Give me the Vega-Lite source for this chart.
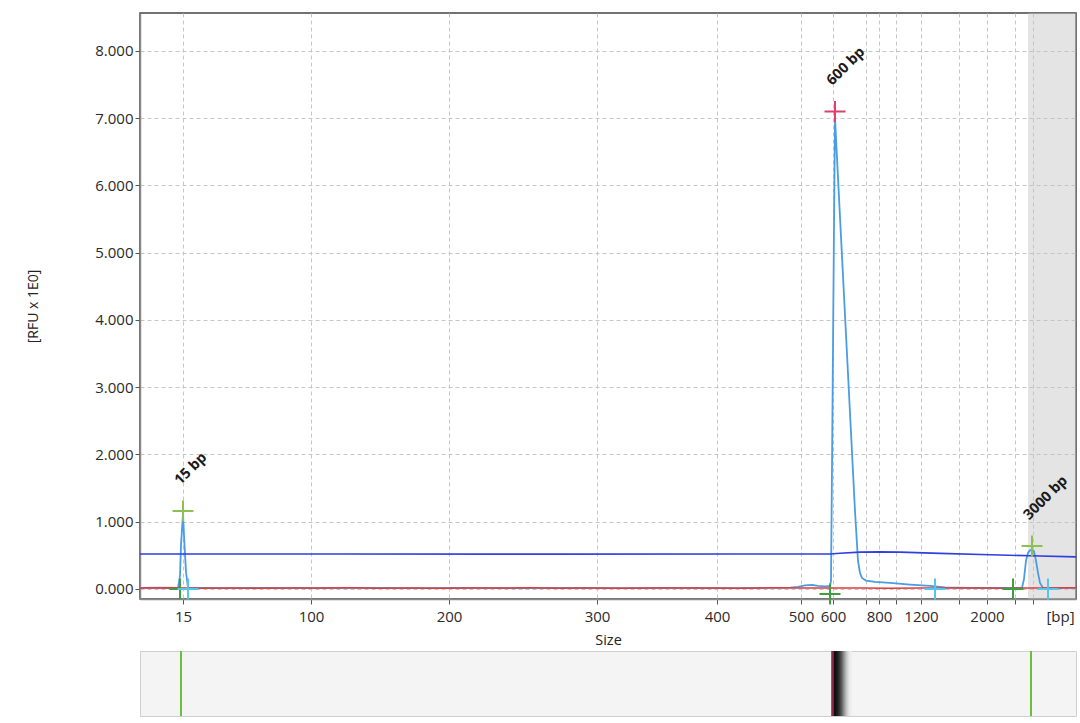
{
  "$schema": "https://vega.github.io/schema/vega-lite/v6.json",
  "padding": {"left": 25, "top": 12, "right": 4, "bottom": 7},
  "background": "white",
  "spacing": 1,
  "config": {
    "font": "Open Sans",
    "view": {"stroke": null}
  },
  "datasets": {
    "shade": [{"t": 888, "t2": 936}],
    "signal": [
      {"t": 0, "rfu": 15}, {"t": 20, "rfu": 18}, {"t": 38, "rfu": 15}, {"t": 40, "rfu": 200}, {"t": 41, "rfu": 650},
      {"t": 43, "rfu": 1120}, {"t": 44, "rfu": 800}, {"t": 46, "rfu": 250}, {"t": 48, "rfu": 20},
      {"t": 80, "rfu": 14}, {"t": 130, "rfu": 16}, {"t": 180, "rfu": 12}, {"t": 230, "rfu": 15}, {"t": 280, "rfu": 13},
      {"t": 330, "rfu": 16}, {"t": 380, "rfu": 12}, {"t": 430, "rfu": 15}, {"t": 480, "rfu": 13}, {"t": 530, "rfu": 16},
      {"t": 580, "rfu": 12}, {"t": 630, "rfu": 16}, {"t": 650, "rfu": 20},
      {"t": 658, "rfu": 30}, {"t": 665, "rfu": 55}, {"t": 672, "rfu": 62}, {"t": 678, "rfu": 45}, {"t": 685, "rfu": 38},
      {"t": 690, "rfu": 45}, {"t": 691, "rfu": 120}, {"t": 692, "rfu": 1800}, {"t": 693, "rfu": 3600}, {"t": 694, "rfu": 5400},
      {"t": 695, "rfu": 7000}, {"t": 700, "rfu": 5530}, {"t": 705, "rfu": 4075}, {"t": 710, "rfu": 2617}, {"t": 715, "rfu": 1160},
      {"t": 718, "rfu": 416}, {"t": 720, "rfu": 238}, {"t": 722, "rfu": 164}, {"t": 726, "rfu": 125}, {"t": 735, "rfu": 105},
      {"t": 750, "rfu": 90}, {"t": 770, "rfu": 65}, {"t": 790, "rfu": 45}, {"t": 805, "rfu": 25}, {"t": 830, "rfu": 15},
      {"t": 860, "rfu": 16}, {"t": 882, "rfu": 15}, {"t": 884, "rfu": 150}, {"t": 886, "rfu": 420}, {"t": 888, "rfu": 540},
      {"t": 890, "rfu": 575}, {"t": 892, "rfu": 585}, {"t": 894, "rfu": 560}, {"t": 896, "rfu": 420}, {"t": 898, "rfu": 240},
      {"t": 900, "rfu": 90}, {"t": 903, "rfu": 15}, {"t": 936, "rfu": 15}
    ],
    "baseline": [
      {"t": 0, "rfu": 14}, {"t": 30, "rfu": 18}, {"t": 60, "rfu": 12}, {"t": 90, "rfu": 16}, {"t": 120, "rfu": 11},
      {"t": 150, "rfu": 15}, {"t": 180, "rfu": 13}, {"t": 210, "rfu": 17}, {"t": 240, "rfu": 12}, {"t": 270, "rfu": 15},
      {"t": 300, "rfu": 11}, {"t": 330, "rfu": 16}, {"t": 360, "rfu": 13}, {"t": 390, "rfu": 17}, {"t": 420, "rfu": 12},
      {"t": 450, "rfu": 14}, {"t": 480, "rfu": 11}, {"t": 510, "rfu": 16}, {"t": 540, "rfu": 13}, {"t": 570, "rfu": 15},
      {"t": 600, "rfu": 12}, {"t": 630, "rfu": 17}, {"t": 660, "rfu": 14}, {"t": 690, "rfu": 16}, {"t": 720, "rfu": 15},
      {"t": 750, "rfu": 12}, {"t": 780, "rfu": 16}, {"t": 810, "rfu": 13}, {"t": 840, "rfu": 15}, {"t": 870, "rfu": 12},
      {"t": 900, "rfu": 16}, {"t": 936, "rfu": 20}
    ],
    "threshold": [
      {"t": 0, "rfu": 520}, {"t": 200, "rfu": 520}, {"t": 400, "rfu": 518}, {"t": 600, "rfu": 520}, {"t": 690, "rfu": 520},
      {"t": 700, "rfu": 532}, {"t": 720, "rfu": 548}, {"t": 740, "rfu": 552}, {"t": 760, "rfu": 548}, {"t": 800, "rfu": 530},
      {"t": 850, "rfu": 508}, {"t": 890, "rfu": 495}, {"t": 936, "rfu": 478}
    ],
    "markers": [
      {"t": 43, "rfu": 1160, "kind": "standard"},
      {"t": 40, "rfu": 0, "kind": "start"},
      {"t": 48, "rfu": 0, "kind": "end"},
      {"t": 695, "rfu": 7100, "kind": "peak"},
      {"t": 690, "rfu": -75, "kind": "start"},
      {"t": 795, "rfu": 0, "kind": "end"},
      {"t": 892, "rfu": 640, "kind": "standard"},
      {"t": 873, "rfu": 0, "kind": "start"},
      {"t": 908, "rfu": 0, "kind": "end"}
    ],
    "labels": [
      {"t": 43, "rfu": 1160, "label": "15 bp"},
      {"t": 695, "rfu": 7100, "label": "600 bp"},
      {"t": 892, "rfu": 640, "label": "3000 bp"}
    ],
    "gel": [
      {"t": 694, "shade": 1}, {"t": 695, "shade": 1}, {"t": 696, "shade": 1}, {"t": 697, "shade": 0.97},
      {"t": 698, "shade": 0.93}, {"t": 699, "shade": 0.88}, {"t": 700, "shade": 0.8}, {"t": 701, "shade": 0.72},
      {"t": 702, "shade": 0.62}, {"t": 703, "shade": 0.52}, {"t": 704, "shade": 0.42}, {"t": 705, "shade": 0.33},
      {"t": 706, "shade": 0.25}, {"t": 707, "shade": 0.18}, {"t": 708, "shade": 0.12}, {"t": 709, "shade": 0.07},
      {"t": 710, "shade": 0.04}, {"t": 711, "shade": 0.02}
    ],
    "gelStd": [{"t": 41}, {"t": 891}],
    "gelPeak": [{"t": 692}, {"t": 693}]
  },
  "vconcat": [
    {
      "width": 936,
      "height": 586,
      "view": {"stroke": "#444444", "strokeWidth": 1.5},
      "layer": [
        {
          "data": {"name": "shade"},
          "mark": {"type": "rect", "fill": "#c4c4c4", "fillOpacity": 0.45},
          "encoding": {
            "x": {"field": "t", "type": "quantitative", "scale": {"domain": [0, 936], "nice": false, "zero": false}},
            "x2": {"field": "t2"}
          }
        },
        {
          "data": {"name": "signal"},
          "mark": {"type": "line", "color": "#4a9ce6", "strokeWidth": 1.8},
          "encoding": {
            "x": {
              "field": "t", "type": "quantitative",
              "scale": {"domain": [0, 936], "nice": false, "zero": false},
              "axis": {
                "title": "Size",
                "titleFontSize": 14.5, "titleFontWeight": "normal", "titleColor": "#222222",
                "titleX": 468, "titleY": 45, "titleBaseline": "alphabetic", "titleAlign": "center",
                "values": [43, 171, 309, 457, 577, 661, 693, 726, 739, 756, 781, 819, 847, 875, 893, 920],
                "labelExpr": "['15','100','200','300','400','500','600','','800','','1200','','2000','','','[bp]'][indexof([43,171,309,457,577,661,693,726,739,756,781,819,847,875,893,920], datum.value)]",
                "labelFontSize": 15, "labelColor": "#2a2a2a", "labelPadding": 5,
                "labelOverlap": false, "labelFlush": false, "labelBound": false,
                "tickSize": 5, "tickColor": "#555555",
                "tickOpacity": {"condition": {"test": "datum.value == 920", "value": 0}, "value": 1},
                "domainColor": "#8a8a8a", "domainWidth": 1.5,
                "grid": true, "gridColor": "#c6c6c6", "gridDash": [4, 3], "gridWidth": 1,
                "gridOpacity": {"condition": {"test": "datum.value == 920", "value": 0}, "value": 1}
              }
            },
            "y": {
              "field": "rfu", "type": "quantitative",
              "scale": {"domain": [-149, 8565], "nice": false, "zero": false},
              "axis": {
                "title": "[RFU x 1E0]",
                "titleFontSize": 14, "titleFontWeight": "normal", "titleColor": "#222222",
                "titleX": -103, "titleY": 293, "titleBaseline": "alphabetic", "titleAlign": "center", "titleAngle": -90,
                "values": [0, 1000, 2000, 3000, 4000, 5000, 6000, 7000, 8000],
                "labelExpr": "format(datum.value / 1000, '.3f')",
                "labelFontSize": 15, "labelColor": "#2a2a2a", "labelPadding": 2,
                "tickSize": 5, "tickColor": "#555555",
                "domainColor": "#8a8a8a", "domainWidth": 1.5,
                "grid": true, "gridColor": "#c6c6c6", "gridDash": [4, 3], "gridWidth": 1
              }
            }
          }
        },
        {
          "data": {"name": "baseline"},
          "mark": {"type": "line", "color": "#e03a3a", "strokeWidth": 1.5},
          "encoding": {
            "x": {"field": "t", "type": "quantitative"},
            "y": {"field": "rfu", "type": "quantitative"}
          }
        },
        {
          "data": {"name": "threshold"},
          "mark": {"type": "line", "color": "#2f3fe0", "strokeWidth": 1.6},
          "encoding": {
            "x": {"field": "t", "type": "quantitative"},
            "y": {"field": "rfu", "type": "quantitative"}
          }
        },
        {
          "data": {"name": "markers"},
          "mark": {"type": "point", "shape": "M-1,0L1,0M0,-1L0,1", "filled": false, "strokeWidth": 2, "size": 441, "opacity": 1},
          "encoding": {
            "x": {"field": "t", "type": "quantitative"},
            "y": {"field": "rfu", "type": "quantitative"},
            "color": {
              "field": "kind", "type": "nominal", "legend": null,
              "scale": {"domain": ["standard", "peak", "start", "end"], "range": ["#8cc152", "#e0406e", "#3f9f3f", "#55c6ea"]}
            }
          }
        },
        {
          "data": {"name": "labels"},
          "mark": {"type": "text", "angle": -45, "align": "left", "baseline": "alphabetic", "fontSize": 14.5, "fontWeight": "bold", "color": "#1a1a1a", "dx": 16, "dy": -20},
          "encoding": {
            "x": {"field": "t", "type": "quantitative"},
            "y": {"field": "rfu", "type": "quantitative"},
            "text": {"field": "label"}
          }
        }
      ]
    },
    {
      "width": 936,
      "height": 65,
      "view": {"fill": "#f4f4f4", "stroke": "#cfcfcf", "strokeWidth": 1},
      "layer": [
        {
          "data": {"name": "gel"},
          "mark": {"type": "rule", "strokeWidth": 1.5},
          "encoding": {
            "x": {"field": "t", "type": "quantitative", "scale": {"domain": [0, 936], "nice": false, "zero": false}, "axis": null},
            "color": {"field": "shade", "type": "quantitative", "legend": null, "scale": {"domain": [0, 1], "range": ["#f4f4f4", "#000000"]}}
          }
        },
        {
          "data": {"name": "gelPeak"},
          "mark": {"type": "rule", "strokeWidth": 1.5, "color": "#8b1a40"},
          "encoding": {
            "x": {"field": "t", "type": "quantitative", "axis": null}
          }
        },
        {
          "data": {"name": "gelStd"},
          "mark": {"type": "rule", "strokeWidth": 2, "color": "#6cbf3c"},
          "encoding": {
            "x": {"field": "t", "type": "quantitative", "axis": null}
          }
        }
      ]
    }
  ]
}
